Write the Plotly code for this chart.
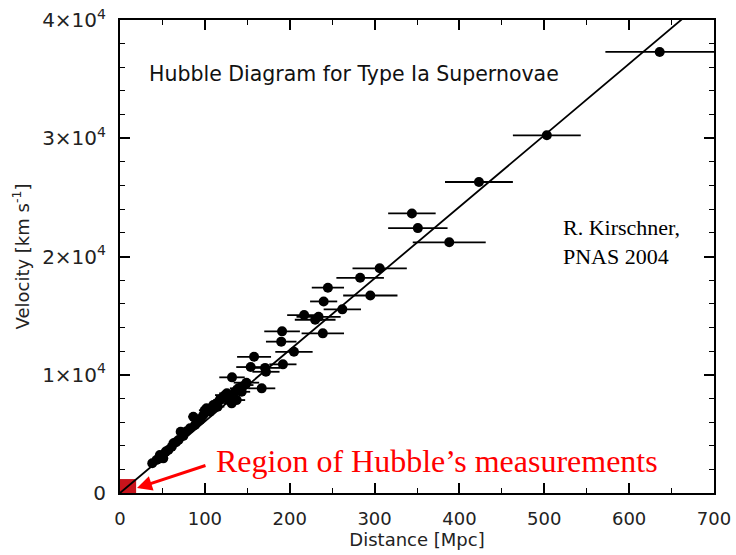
import plotly.graph_objects as go

# Supernova data: distance [Mpc], velocity [km/s], distance error [Mpc]
distance = [636, 503, 423, 344, 351, 388, 306, 283, 245, 295, 240, 262, 217, 234, 230,
            191, 239, 190, 205, 158, 154, 171, 192, 172, 132, 149, 167, 124,
            38, 43, 47, 51, 57, 61, 63, 69, 71.5, 74.6, 82.5, 86.4, 88.4, 94.3, 98.2,
            102, 106, 110, 114, 118, 122, 126, 128, 132, 135.5, 139.5, 143.4, 147.3,
            143.4, 137.5, 131.6, 100, 108, 115, 90, 78, 66, 54, 46, 120, 128]
velocity = [37300, 30250, 26300, 23640, 22400, 21200, 19000, 18200, 17360, 16700, 16200,
            15530, 15050, 14900, 14650, 13670, 13500, 12800, 11940, 11520, 10650, 10580,
            10880, 10250, 9780, 9330, 8850, 8280,
            2510, 2790, 3210, 2930, 3630, 3910, 4200, 4480, 5180, 4820, 5470, 6450, 5750,
            6170, 6590, 7160, 6870, 7440, 7580, 7860, 8140, 8430, 7860, 8140, 8560, 8850,
            8990, 9130, 8560, 7860, 7580, 7000, 7200, 7300, 6200, 5200, 4300, 3500, 2900,
            8000, 8200]
dist_err = [64, 40, 40, 28, 35, 43, 32, 28, 19, 32, 16, 22, 20, 26, 24,
            21, 25, 18, 22, 20, 17, 18, 16, 16, 15, 15, 16, 12,
            3, 3, 3, 4, 4, 4, 4, 5, 5, 5, 6, 6, 6, 7, 7,
            7, 7, 8, 8, 8, 9, 9, 9, 9, 9, 10, 10, 10,
            10, 10, 9, 7, 8, 8, 6, 5, 5, 4, 3, 8, 9]

H0 = 60.5  # km/s/Mpc slope of the fitted line
fit_x = [0, 700]
fit_y = [H0 * d for d in fit_x]

x_ticks = [0, 100, 200, 300, 400, 500, 600, 700]
y_ticks = [0, 10000, 20000, 30000, 40000]
y_ticktext = ["0", "1×10<sup>4</sup>", "2×10<sup>4</sup>", "3×10<sup>4</sup>", "4×10<sup>4</sup>"]

hubble_box = (19, 1180)  # extent of Hubble's original data region

fig = go.Figure()

fig.add_shape(type="rect", x0=0, y0=0, x1=hubble_box[0], y1=hubble_box[1],
              fillcolor="#c8141c", line=dict(width=0), layer="below")

fig.add_trace(go.Scatter(x=fit_x, y=fit_y, mode="lines",
                         line=dict(color="black", width=1.8), showlegend=False,
                         hoverinfo="skip"))

fig.add_trace(go.Scatter(
    x=distance, y=velocity, mode="markers",
    marker=dict(color="black", size=10),
    error_x=dict(type="data", array=dist_err, color="black", thickness=1.8, width=0),
    showlegend=False))

axis_common = dict(showline=True, linecolor="black", linewidth=2, mirror="ticks",
                   ticks="inside", ticklen=10, tickwidth=1.6, tickcolor="black",
                   showgrid=False, zeroline=False, ticklabelstandoff=8, automargin=False)

fig.update_xaxes(range=[0, 700], tickvals=x_ticks, ticktext=[str(v) for v in x_ticks],
                 tickfont=dict(family="DejaVu Sans", size=18, color="#222"),
                 minor=dict(ticks="inside", ticklen=5, tickwidth=1.4, tickcolor="black", dtick=50),
                 title=dict(text="Distance [Mpc]", standoff=4,
                            font=dict(family="DejaVu Sans", size=18, color="#222")),
                 **axis_common)
fig.update_yaxes(range=[0, 40000], tickvals=y_ticks, ticktext=y_ticktext,
                 tickfont=dict(family="DejaVu Sans", size=20, color="#222"),
                 minor=dict(ticks="inside", ticklen=5, tickwidth=1.4, tickcolor="black", dtick=2000),
                 title=dict(text="Velocity [km s<sup>-1</sup>]", standoff=8,
                            font=dict(family="DejaVu Sans", size=18, color="#222")),
                 **axis_common)

fig.add_annotation(x=0.045, y=0.885, xref="paper", yref="paper", xanchor="left", yanchor="middle",
                   text="Hubble Diagram for Type Ia Supernovae", showarrow=False,
                   font=dict(family="DejaVu Sans", size=20.5, color="#111"))

fig.add_annotation(x=0.742, y=0.53, xref="paper", yref="paper", xanchor="left", yanchor="middle",
                   text="R. Kirschner,<br>PNAS 2004", showarrow=False, align="left",
                   font=dict(family="Liberation Serif", size=22, color="black"))

fig.add_annotation(x=0.158, y=0.068, xref="paper", yref="paper", xanchor="left", yanchor="middle",
                   text="Region of Hubble’s measurements", showarrow=False,
                   font=dict(family="Liberation Serif", size=32, color="#ff0000"))

fig.add_annotation(x=20, y=420, xref="x", yref="y", ax=70, ay=-23, text="",
                   showarrow=True, arrowhead=2, arrowsize=1, arrowwidth=3,
                   arrowcolor="#ff0000")

fig.update_layout(width=736, height=555, margin=dict(l=120, r=22, t=20, b=62),
                  plot_bgcolor="white", paper_bgcolor="white")

fig.write_html("out.html")
